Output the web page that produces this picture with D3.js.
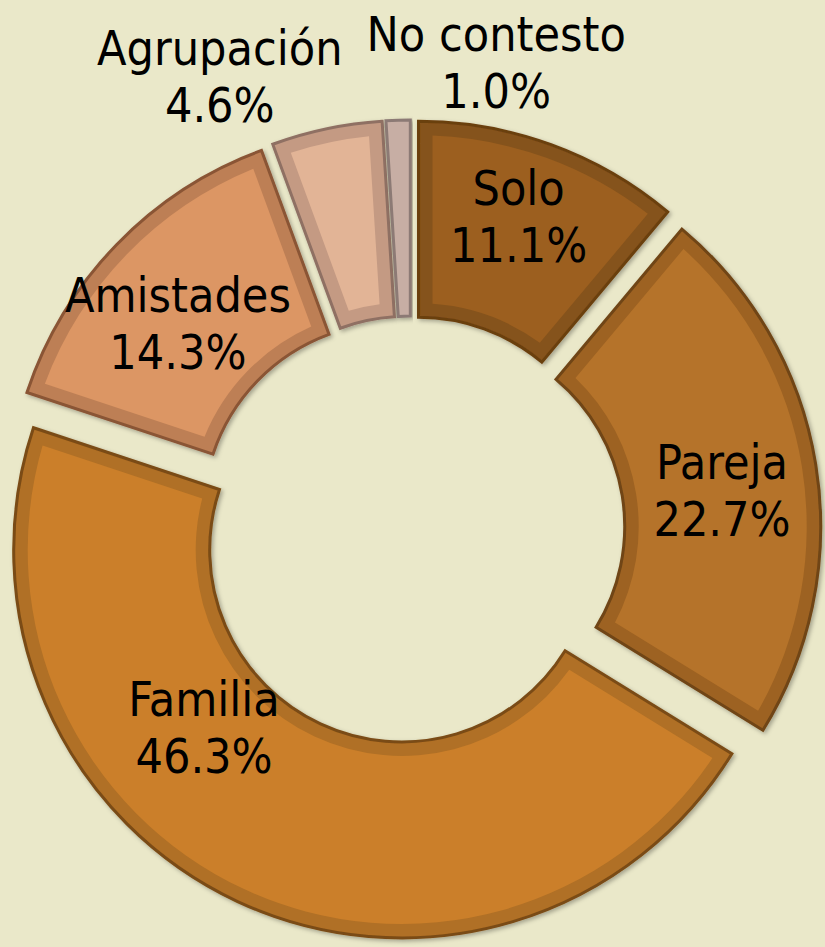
<!DOCTYPE html>
<html lang="es">
<head>
<meta charset="utf-8"/>
<script src="https://d3js.org/d3.v7.min.js"></script>
<style>
  html, body { margin: 0; padding: 0; background: #eae8c9; }
  text { font-family: "DejaVu Sans Condensed", "DejaVu Sans", sans-serif; font-size: 48px; fill: #000; }
</style>
</head>
<body>
<script>
    // Data (percent of respondents)
    var categories = ["Solo", "Pareja", "Familia", "Amistades", "Agrupación", "No contesto"];
    var values = [11.1, 22.7, 46.3, 14.3, 4.6, 1.0];
    var valueLabels = ["11.1%", "22.7%", "46.3%", "14.3%", "4.6%", "1.0%"];

    // Colours: fill, inner band, outline
    var fills   = ["#9c5f1f", "#b5732a", "#cb7f2a", "#dc9664", "#e2b496", "#c7aea4"];
    var bands   = ["#85521a", "#9d6222", "#b06f25", "#bd7f54", "#c49a83", "#c7aea4"];
    var strokes = ["#6b3f11", "#6f4515", "#7a4b15", "#8a5535", "#8f7063", "#8c7a74"];

    var width = 825, height = 947;
    var cx = 411, cy = 530;
    var outerR = 388, innerR = 192, explode = 22, inset = 14;

    // Label nudges from the slice centroid (Excel placed some labels by hand)
    var labelShift = {
        "Solo": [1, -21],
        "Pareja": [3, 10],
        "Familia": [-75, -86],
        "Amistades": [-9, 10],
        "Agrupación": [-127, -149],
        "No contesto": [95, -156]
    };

    var svg = d3.select("body")
        .append("svg")
        .attr("width", width)
        .attr("height", height);

    svg.append("rect")
        .attr("width", width)
        .attr("height", height)
        .attr("fill", "#eae8c9");

    var defs = svg.append("defs");
    defs.append("filter")
        .attr("id", "shadow")
        .attr("x", "-10%").attr("y", "-10%")
        .attr("width", "120%").attr("height", "120%")
        .append("feDropShadow")
        .attr("dx", 2).attr("dy", 2)
        .attr("stdDeviation", 2)
        .attr("flood-color", "#000")
        .attr("flood-opacity", 0.3);

    var data = categories.map(function(c, i) {
        return {name: c, value: values[i], label: valueLabels[i], i: i};
    });

    var pie = d3.pie()
        .sort(null)
        .value(function(d) { return d.value; });

    var arc = d3.arc()
        .innerRadius(innerR)
        .outerRadius(outerR);

    var arcInner = d3.arc()
        .innerRadius(innerR + inset)
        .outerRadius(outerR - inset)
        .padRadius(outerR)
        .padAngle(2 * inset / outerR);

    function offset(d) {
        var a = (d.startAngle + d.endAngle) / 2;
        return [Math.sin(a) * explode, -Math.cos(a) * explode];
    }

    var g = svg.append("g")
        .attr("transform", "translate(" + cx + "," + cy + ")");

    var slices = g.selectAll("g.slice")
        .data(pie(data))
        .enter()
        .append("g")
        .attr("class", "slice")
        .attr("transform", function(d) {
            var o = offset(d);
            return "translate(" + o[0] + "," + o[1] + ")";
        });

    slices.append("path")
        .attr("d", arc)
        .attr("fill", function(d) { return bands[d.data.i]; })
        .attr("stroke", function(d) { return strokes[d.data.i]; })
        .attr("stroke-width", 3)
        .attr("stroke-linejoin", "miter")
        .attr("filter", "url(#shadow)");

    // inner lighter fill (the tiny slice keeps a flat fill)
    slices.filter(function(d) { return d.endAngle - d.startAngle > 0.1; })
        .append("path")
        .attr("d", arcInner)
        .attr("fill", function(d) { return fills[d.data.i]; });

    // Labels
    var labels = g.selectAll("text.lbl")
        .data(pie(data))
        .enter()
        .append("text")
        .attr("class", "lbl")
        .attr("text-anchor", "middle")
        .attr("transform", function(d) {
            var c = arc.centroid(d);
            var o = offset(d);
            var s = labelShift[d.data.name];
            return "translate(" + (c[0] + o[0] + s[0]) + "," + (c[1] + o[1] + s[1]) + ")";
        });

    labels.append("tspan")
        .attr("x", 0)
        .attr("y", -11)
        .text(function(d) { return d.data.name; });

    labels.append("tspan")
        .attr("x", 0)
        .attr("y", 46)
        .text(function(d) { return d.data.label; });
</script>
</body>
</html>
